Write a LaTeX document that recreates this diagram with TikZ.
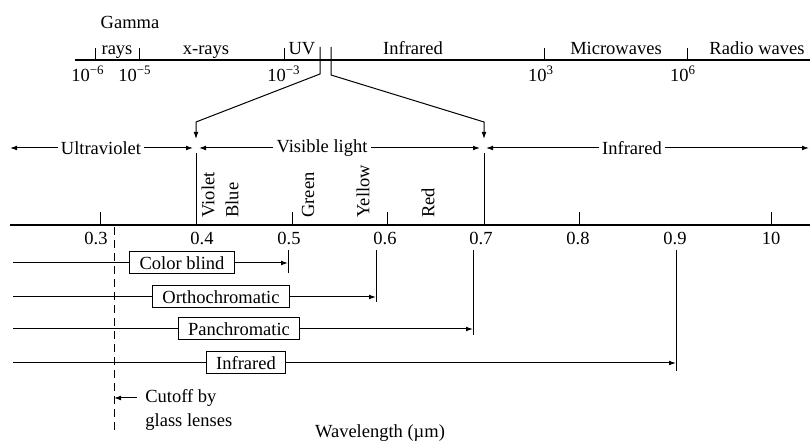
\documentclass[tikz,border=0pt]{standalone}
\usepackage{fontspec}
\setmainfont{Liberation Serif}
\usetikzlibrary{arrows.meta}

\begin{document}
\begin{tikzpicture}[x=0.5pt, y=-0.5pt, font=\fontsize{9.25}{11}\selectfont,
  tip/.style={-{Latex[length=3.5pt,width=2.4pt]}},
  film/.style={draw, line width=0.5pt, inner xsep=5pt, inner ysep=0pt, minimum height=11pt},
  lbl/.style={inner sep=1.5pt},
  band/.style={anchor=base, inner sep=0pt},
  colr/.style={rotate=90, anchor=west, inner sep=0pt}]
  \useasboundingbox (0,0) rectangle (810,442);
  % full spectrum
  \draw[line width=0.9pt] (75,60) -- (810,60);
  \foreach \x in {95,139,284,544,687}
    \draw[line width=0.4pt] (\x,48) -- (\x,60);
  \node[band] (gam) at (130,29) {Gamma};
  \foreach \x/\t [count=\i] in {117/rays, 206/x-rays, 302/UV, 413/Infrared, 616/Microwaves, 757/Radio waves}
    \node[band] (b\i) at (\x,55) {\t};
  \foreach \x/\t [count=\i] in {88/−6, 135/−5, 284/−3, 541/3, 683/6}
    \node[band] (p\i) at (\x,82) {10\textsuperscript{\t}};
  % zoom into the visible band
  \coordinate (bL0) at (320,47);
  \coordinate (bL1) at (320,74);
  \coordinate (bL2) at (196,122);
  \coordinate (bL3) at (196,139);
  \coordinate (bR0) at (331,47);
  \coordinate (bR1) at (331,75);
  \coordinate (bR2) at (484,122);
  \coordinate (bR3) at (484,139);
  \draw[line width=0.5pt, tip] (bL0) -- (bL1) -- (bL2) -- (bL3);
  \draw[line width=0.5pt, tip] (bR0) -- (bR1) -- (bR2) -- (bR3);
  % regions
  \node[lbl] (uv) at (101,148) {Ultraviolet};
  \node[lbl] (vis) at (322,148) {Visible light};
  \node[lbl] (ir) at (632,148) {Infrared};
  \coordinate (uvL) at (10,148);
  \coordinate (uvR) at (193,148);
  \coordinate (visL) at (199,148);
  \coordinate (visR) at (480,148);
  \coordinate (irL) at (486,148);
  \coordinate (irR) at (809,148);
  \draw[line width=0.5pt, tip] (uv) -- (uvL);
  \draw[line width=0.5pt, tip] (uv) -- (uvR);
  \draw[line width=0.5pt, tip] (vis) -- (visL);
  \draw[line width=0.5pt, tip] (vis) -- (visR);
  \draw[line width=0.5pt, tip] (ir) -- (irL);
  \draw[line width=0.5pt, tip] (ir) -- (irR);
  % wavelength axis
  \draw[line width=0.9pt] (10,225) -- (810,225);
  \draw[line width=0.5pt] (196,153) -- (196,225);
  \draw[line width=0.5pt] (484,153) -- (484,225);
  \foreach \x in {100,292,387,579,771}
    \draw[line width=0.5pt] (\x,212) -- (\x,225);
  \foreach \x/\t [count=\i] in {96/0.3, 202/0.4, 289/0.5, 385/0.6, 481/0.7, 578/0.8, 675/0.9, 771/10}
    \node[band] (w\i) at (\x,245) {\t};
  \foreach \x/\t [count=\i] in {208/Violet, 232/Blue, 308/Green, 363/Yellow, 428/Red}
    \node[colr] (c\i) at (\x,218) {\t};
  % film sensitivity
  \foreach \x/\y/\e/\b/\t [count=\i] in {182/263/288/273/Color blind, 221/297/376/302/Orthochromatic,
      239/329/473/335/Panchromatic, 246/363/676/371/Infrared} {
    \node[film] (f\i) at (\x,\y) {\t};
    \coordinate (fs\i) at (13,\y);
    \coordinate (fe\i) at (\e,\y);
    \coordinate (ft\i) at (\e,250);
    \coordinate (fb\i) at (\e,\b);
    \draw[line width=0.5pt] (fs\i) -- (f\i);
    \draw[line width=0.5pt, tip] (f\i) -- (fe\i);
    \draw[line width=0.5pt] (ft\i) -- (fb\i);
  }
  % glass cutoff
  \coordinate (cutT) at (114,227);
  \coordinate (cutB) at (114,431);
  \coordinate (cutP) at (114,398);
  \draw[line width=0.5pt, dash pattern=on 4pt off 2.5pt] (cutT) -- (cutB);
  \node[anchor=west, inner sep=0pt] (cut1) at (145,398) {Cutoff by};
  \node[anchor=west, inner sep=0pt] (cut2) at (145,422) {glass lenses};
  \draw[line width=0.5pt, tip, shorten <=4pt] (cut1) -- (cutP);
  \node[band] (wl) at (380,438) {Wavelength (µm)};
\end{tikzpicture}
\end{document}
